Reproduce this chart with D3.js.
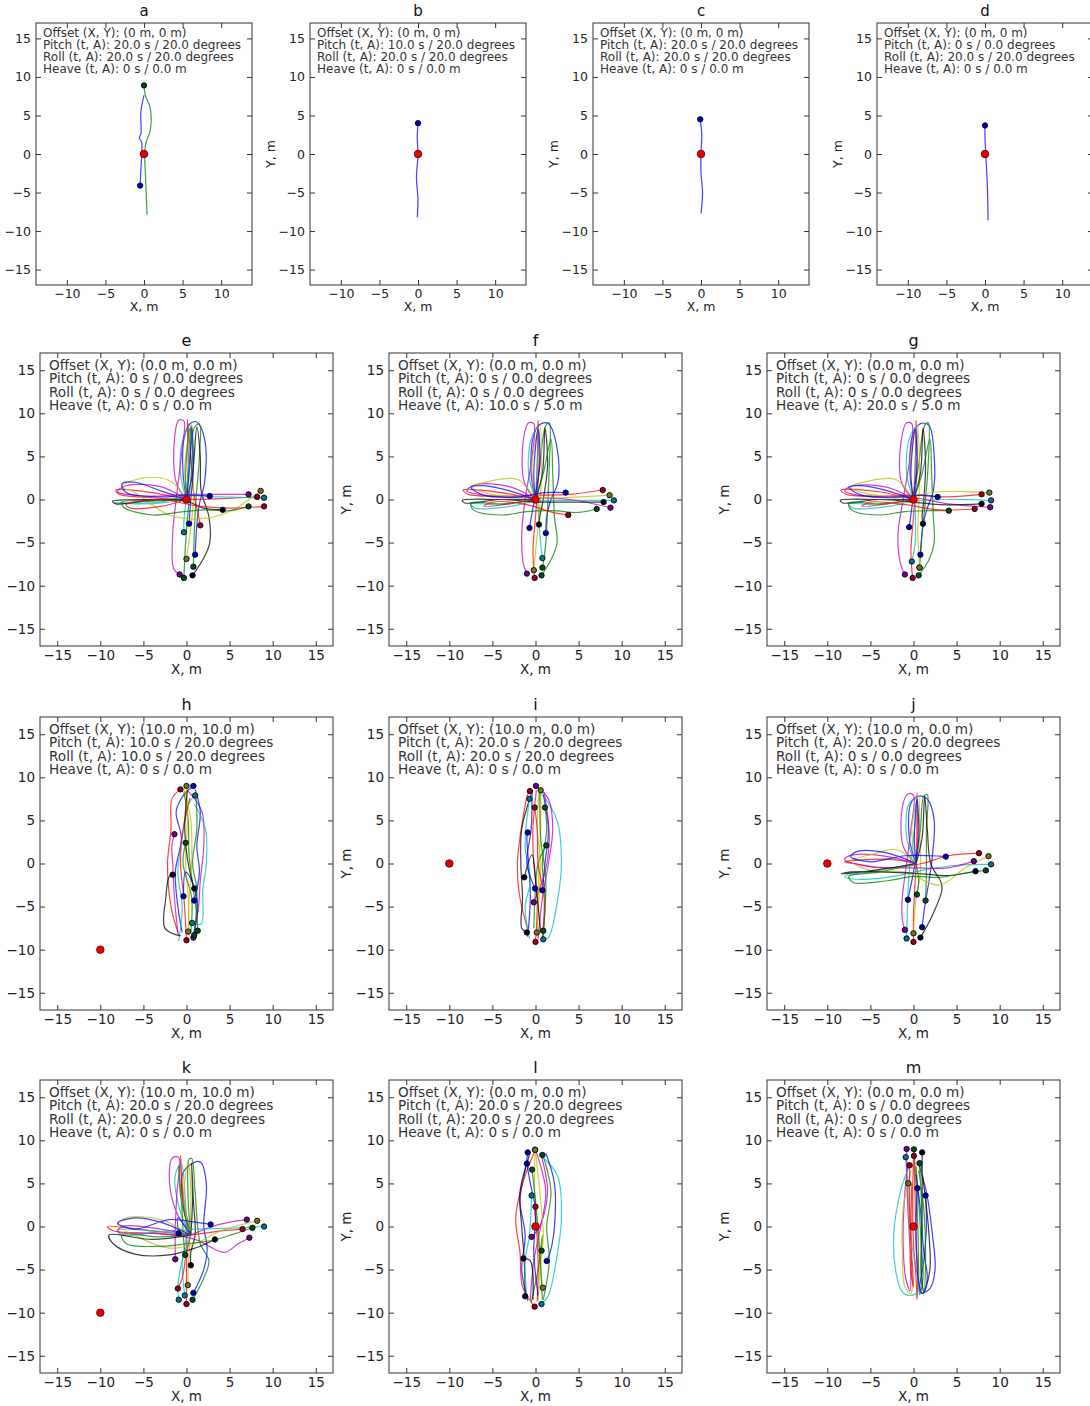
<!DOCTYPE html>
<html>
<head>
<meta charset="utf-8">
<script src="https://cdn.jsdelivr.net/npm/d3@7"></script>
<style>
  body { margin: 0; background: #fff; }
  svg { display: block; }
  text { font-family: "DejaVu Sans", sans-serif; }
</style>
</head>
<body>
<svg></svg>
<script>
let width = 1090
let height = 1406

let panelIds = ['a', 'b', 'c', 'd', 'e', 'f', 'g', 'h', 'i', 'j', 'k', 'l', 'm']
let offsetText = ['(0 m, 0 m)', '(0 m, 0 m)', '(0 m, 0 m)', '(0 m, 0 m)',
  '(0.0 m, 0.0 m)', '(0.0 m, 0.0 m)', '(0.0 m, 0.0 m)',
  '(10.0 m, 10.0 m)', '(10.0 m, 0.0 m)', '(10.0 m, 0.0 m)',
  '(10.0 m, 10.0 m)', '(0.0 m, 0.0 m)', '(0.0 m, 0.0 m)']
let pitchText = ['20.0 s / 20.0 degrees', '10.0 s / 20.0 degrees', '20.0 s / 20.0 degrees', '0 s / 0.0 degrees',
  '0 s / 0.0 degrees', '0 s / 0.0 degrees', '0 s / 0.0 degrees',
  '10.0 s / 20.0 degrees', '20.0 s / 20.0 degrees', '20.0 s / 20.0 degrees',
  '20.0 s / 20.0 degrees', '20.0 s / 20.0 degrees', '0 s / 0.0 degrees']
let rollText = ['20.0 s / 20.0 degrees', '20.0 s / 20.0 degrees', '20.0 s / 20.0 degrees', '20.0 s / 20.0 degrees',
  '0 s / 0.0 degrees', '0 s / 0.0 degrees', '0 s / 0.0 degrees',
  '10.0 s / 20.0 degrees', '20.0 s / 20.0 degrees', '0 s / 0.0 degrees',
  '20.0 s / 20.0 degrees', '20.0 s / 20.0 degrees', '0 s / 0.0 degrees']
let heaveText = ['0 s / 0.0 m', '0 s / 0.0 m', '0 s / 0.0 m', '0 s / 0.0 m',
  '0 s / 0.0 m', '10.0 s / 5.0 m', '20.0 s / 5.0 m',
  '0 s / 0.0 m', '0 s / 0.0 m', '0 s / 0.0 m',
  '0 s / 0.0 m', '0 s / 0.0 m', '0 s / 0.0 m']
// red marker: where the walk was meant to start
let startPoints = [[0, 0], [0, 0], [0, 0], [0, 0], [0, 0], [0, 0], [0, 0],
  [-10, -10], [-10, 0], [-10, 0], [-10, -10], [0, 0], [0, 0]]

let smallTicks = [-10, -5, 0, 5, 10]
let bigTicks = [-15, -10, -5, 0, 5, 10, 15]
let yTicks = [-15, -10, -5, 0, 5, 10, 15]

// matplotlib classic colour cycle: b g r c m y k
let lineColors = ['#0000ff', '#008000', '#ff0000', '#00bfbf', '#bf00bf', '#bfbf00', '#000000']

let tracksA = [
  [[0, 7.6], [-0.4, 5.5], [-0.4, 2.6], [-0.6, 2.1], [-0.3, 1.5], [-0.3, 0], [-0.4, -2], [-0.5, -4.1]],
  [[0.4, -7.9], [0.2, -3], [0.1, 0.4], [0.3, 1.6], [0.8, 3], [0.8, 6], [0.2, 7.5], [0, 8.9]]
]
let tracksB = [
  [[-0.1, -8.2], [0, -6], [-0.2, -3], [0, 0], [-0.1, 2], [0, 4]]
]
let tracksC = [
  [[0, -7.7], [0.2, -5], [0, -2.5], [0, 0], [0.1, 2.5], [-0.1, 4.5]]
]
let tracksD = [
  [[0.4, -8.6], [0.3, -4], [0.1, 0], [0, 2], [0, 3.7]]
]
let tracksE = [
  [[0, 0], [-0.4, 3], [-0.3, 7], [0.3, 8.7], [1.2, 9], [2.1, 7], [2.1, 2], [1.5, -0.5], [1.2, -3], [1, -6.4]],
  [[0, 0], [0.3, 4], [1, 8.5], [1.5, 8.7], [1.5, 5], [1.1, 0], [0.9, -4], [0.8, -7.8]],
  [[0, 0], [0.2, 4], [0.1, 9.3], [0.5, 5], [0.8, 1], [1.3, -1.5], [1.6, -3]],
  [[0, 0], [-0.7, 3], [-0.4, 7], [0.4, 8.6], [0.3, 5], [0, 0.5], [-0.3, -2.5], [-0.3, -3.8]],
  [[0, 0], [-1.2, 2], [-1.4, 7], [-0.9, 9.2], [-0.3, 9.1], [-0.5, 6], [-1.2, 0], [-1.6, -4], [-1.5, -8], [-0.8, -8.7]],
  [[0, 0], [-0.2, 4], [0.6, 8.7], [0.7, 5], [0.8, 0], [0.4, -4], [0, -6.9]],
  [[0, 0], [0.7, 3], [1.2, 8.4], [1.6, 5], [1.7, 1], [2.6, -2], [2.7, -5], [2, -6.8], [0.7, -8.8]],
  [[0, 0], [0.4, 4], [0.6, 8.5], [0.8, 4], [0.5, 0], [0.3, -2.8]],
  [[0, 0], [-0.1, 3], [0.4, 8.3], [0.7, 6], [0.3, 0], [-0.1, -5], [-0.3, -9.1]],
  [[0, 0], [-4, 0.8], [-8.2, 1.1], [-7.8, 0.6], [-4, 0.2], [0, 0], [4, 0.1], [8.2, 0.3]],
  [[0, 0], [-4, -0.5], [-8.4, -0.4], [-7.5, -0.4], [-3, -0.3], [0, 0.4], [4, 0.3], [9, 0.2]],
  [[0, 0], [-3, 1.5], [-7, 1.6], [-8, 0.9], [-5, 0.4], [0, 0.6], [4, 0.6], [7.2, 0.6]],
  [[0, 0], [-2, 2.2], [-5, 2.5], [-7.5, 1.5], [-6, 0.8], [-2, -1.8], [2, -2.2], [5, -1.4], [8.6, 1]],
  [[0, 0], [-4, 0], [-8.6, -0.2], [-8.2, -0.5], [-4, -0.1], [0, -0.2], [2, -1], [4.2, -1.2]],
  [[0, 0], [-3, 1], [-6, 2], [-7.5, 1.8], [-7, 0.8], [-3, 0.3], [0, 0.5], [2.7, 0.4]],
  [[0, 0], [-4, -0.2], [-7.5, -0.3], [-7.3, -0.9], [-4, -1.8], [-1, -1.5], [2, -1.2], [5, -1.3], [7.2, -0.8]],
  [[0, 0], [-3, -0.8], [-6.5, -1], [-7, -0.6], [-3, 0], [1, -0.7], [5, -1], [9, -0.8]]
]
let tracksF = [
  [[0, 0], [-0.5, 3], [-0.2, 7.5], [0.5, 8.7], [1.5, 8.8], [2.5, 6], [2.6, 2], [1.8, 0], [1.3, -2], [1.2, -3.9]],
  [[0, 0], [0.5, 4], [1.2, 8.6], [1.6, 8.9], [1.6, 4], [1.4, -1], [1.2, -5], [0.8, -7.9]],
  [[0, 0], [0.2, 4], [0.3, 9.2], [0.4, 4], [0, -2], [-0.3, -6], [-0.1, -9.1]],
  [[0, 0], [-0.8, 3], [-0.5, 7], [0.3, 8.4], [0.2, 4], [0.3, -1], [0.6, -5], [0.8, -6.8]],
  [[0, 0], [-1.3, 2], [-1.4, 7], [-0.8, 8.9], [-0.2, 8.8], [-0.4, 5], [-1.2, 0], [-1.6, -4], [-1.4, -7.5], [-1, -8.6]],
  [[0, 0], [-0.4, 4], [0.5, 8.6], [0.7, 4], [0.5, -1], [0.2, -4], [-0.2, -8.2]],
  [[0, 0], [0.8, 3], [1.1, 8.3], [1.4, 4], [0.9, 0], [0.5, -2], [0.4, -2.9]],
  [[0, 0], [-0.2, 3], [0.3, 8.2], [0.5, 4], [-0.3, -1], [-0.7, -3.3]],
  [[0, 0], [0.9, 3], [1.8, 7], [2, 3], [2.2, -2], [2.5, -5], [1.8, -7], [0.7, -8.8]],
  [[0, 0], [-4, 0.8], [-8.4, 1.1], [-7.8, 0.6], [-4, 0.4], [0, 0.5], [4, 0.6], [7.8, 1.1]],
  [[0, 0], [-4, -0.6], [-7.5, -0.5], [-7, -1], [-3, -0.8], [0, -0.2], [4, -0.1], [9.1, -0.1]],
  [[0, 0], [-3, 1.5], [-7, 1.7], [-8, 1], [-5, 0.4], [0, 0.2], [4, 0], [8.7, -0.95]],
  [[0, 0], [-2, 2.3], [-5, 2.2], [-7.3, 1.4], [-5, 0.6], [-1, 0.3], [3, 0.2], [8.6, 0.5]],
  [[0, 0], [-4, 0], [-8.5, -0.1], [-8.2, -0.4], [-4, 0], [0, -0.3], [3, -0.3], [7.9, -0.3]],
  [[0, 0], [-3, 1], [-6, 1.6], [-7.5, 1.4], [-6, 0.5], [-2, 0.3], [1, 0.8], [3.5, 0.8]],
  [[0, 0], [-4, -0.5], [-7.5, -0.4], [-7.2, -1.2], [-4, -1.8], [-1, -1.4], [2, -1.3], [5, -1.5], [7.1, -1.1]],
  [[0, 0], [-3, -0.5], [-6, -0.8], [-5, -0.3], [-1, -0.6], [2, -1.5], [3.8, -1.8]]
]
let tracksG = [
  [[0, 0], [-0.4, 3], [-0.1, 7.5], [0.8, 8.8], [1.8, 8.6], [2.4, 5], [2.3, 1], [1.6, -1], [1.1, -3], [0.8, -6.4]],
  [[0, 0], [0.6, 4], [1.3, 8.6], [1.7, 8.9], [1.7, 4], [1.3, -1], [1, -4], [0.7, -7.9]],
  [[0, 0], [0.2, 4], [0.3, 9.2], [0.4, 4], [0, -2], [-0.3, -6], [-0.1, -9.1]],
  [[0, 0], [-0.8, 3], [-0.5, 7], [0.3, 8.4], [0.2, 4], [0.2, -1], [0.2, -5], [-0.2, -7.2]],
  [[0, 0], [-1.4, 2], [-1.4, 7], [-0.8, 8.9], [-0.2, 8.8], [-0.4, 5], [-1.2, 0], [-1.8, -4], [-1.5, -7.5], [-1, -8.7]],
  [[0, 0], [-0.4, 4], [0.4, 8.6], [0.7, 4], [0.6, -1], [0.5, -4], [0.7, -7.9]],
  [[0, 0], [0.8, 3], [1.1, 8.3], [1.4, 4], [1.2, 0], [1, -2], [1.1, -2.8]],
  [[0, 0], [-0.3, 3], [0.2, 8.2], [0.4, 4], [-0.2, -1], [-0.5, -3.2]],
  [[0, 0], [1, 3], [1.9, 7], [2.1, 3], [2.3, -2], [2.4, -5], [1.8, -7], [0.6, -8.8]],
  [[0, 0], [-4, 0.9], [-8.4, 1.1], [-7.8, 0.6], [-4, 0.4], [0, 0.5], [4, 0.3], [7.9, 0.6]],
  [[0, 0], [-4, -0.6], [-7.5, -0.5], [-7, -1], [-3, -0.8], [0, -0.2], [4, 0], [9, -0.1]],
  [[0, 0], [-3, 1.4], [-7, 1.6], [-8, 1], [-5, 0.3], [0, 0.2], [4, -0.5], [8.9, -0.9]],
  [[0, 0], [-2, 2.3], [-5, 2.2], [-7.3, 1.4], [-5, 0.6], [-1, 0.3], [3, 0.9], [8.8, 0.8]],
  [[0, 0], [-4, 0], [-8.5, -0.1], [-8.2, -0.4], [-4, 0], [0, -0.3], [3, -0.6], [7.9, -0.5]],
  [[0, 0], [-3, 1], [-6, 1.6], [-7.5, 1.4], [-6, 0.5], [-2, 0.3], [1, 0.5], [2.8, 0.3]],
  [[0, 0], [-4, -0.5], [-7.5, -0.4], [-7.2, -1.2], [-4, -1.8], [-1, -1.4], [2, -1.3], [4.1, -1.3]],
  [[0, 0], [-3, -0.5], [-6, -0.8], [-5, -0.3], [-1, -0.6], [3, -1.2], [7.1, -1.1]]
]
let tracksH = [
  [[-0.5, -8], [-1, -5], [-1.3, -1], [-0.6, 3], [-1.2, 6], [-0.3, 8], [0.8, 9]],
  [[-0.3, 8.3], [0.2, 5], [0.3, 1], [0.8, -3], [1.2, -6], [1.3, -7.8]],
  [[-0.9, -8.3], [-1.8, -5], [-2.2, 0], [-1.8, 4], [-1.7, 7.5], [-0.7, 8.6]],
  [[-0.9, -9], [-0.5, -5], [-1, -1], [-0.5, 3], [0.3, 7], [1, 7.9]],
  [[0.2, 8.4], [1.8, 6], [2, 2], [1.6, -2], [1.4, -5], [0.8, -8.6]],
  [[0.3, -8.5], [0.2, -4], [-0.1, 0], [0.1, 5], [0, 9]],
  [[-0.7, -8.4], [-2.5, -7.5], [-2.4, -4], [-2, -1.5], [-1.6, -1.3]],
  [[1, 8.6], [1.6, 6], [1.2, 2], [1.5, -1], [0.9, -4.3]],
  [[0.5, -8], [0.6, -4], [-0.4, 0], [-0.1, 2.4]],
  [[0.4, 7.6], [-0.4, 4], [-0.7, 0], [-0.3, -4], [0, -8.9]],
  [[0.9, 6.9], [2.2, 4], [2.3, 0], [1.9, -3], [1.7, -7], [0.65, -6.9]],
  [[-1, -8], [-1.4, -4], [-1.6, 0], [-1.7, 2], [-1.4, 3.4]],
  [[-0.3, 8.7], [0.5, 5], [0.6, 0], [0.3, -4], [0.2, -7.9]],
  [[0.1, 8.5], [-0.2, 4], [0.2, 0], [0.9, -2.9]],
  [[0.8, -8.2], [1.3, -5], [0.6, -2], [-0.1, -1], [-0.35, -3.8]],
  [[1.1, 8], [1.2, 4], [0.7, 0], [1.2, -3], [0.9, -8.3]]
]
let tracksI = [
  [[-0.9, -8.5], [-0.6, -4], [-0.8, 0], [-1, 3], [-0.9, 3.6]],
  [[0.9, -8.8], [1.1, -4], [0.8, 0], [1.3, 4], [1.1, 6.5]],
  [[-0.8, -8], [-1.8, -4], [-2.1, 0], [-1.5, 5], [-0.9, 8], [-0.65, 8.4]],
  [[0.4, 8.6], [2.5, 5], [3, 0], [2.6, -4], [1.5, -8.6], [0.9, -8.8]],
  [[0.3, -8.8], [0.8, -4], [1.5, 0], [2, 4], [1.5, 7.5], [0.05, 9]],
  [[0.4, 8.2], [0.2, 4], [0.6, 0], [0.4, -4], [0.15, -8]],
  [[-0.5, 8], [-1.6, 4], [-1.7, 0], [-1.5, -4], [-1.6, -7.5], [-1, -8]],
  [[0.9, 8], [1.5, 4], [1.1, 0], [0.8, -3.1]],
  [[-0.2, -7.5], [0, -3], [0.3, 0], [1.25, 2.1]],
  [[0.1, 8.5], [-0.3, 4], [-0.2, 0], [0.2, -4], [0, -9.1]],
  [[-0.7, -8.7], [-1.2, -5], [-0.6, -2], [-1.2, 2], [-0.7, 7.5]],
  [[1, 8.3], [1.6, 3], [1.1, -1], [-0.2, -4.5]],
  [[0.2, -8.5], [0.3, -4], [0.4, 0], [0.6, 4], [0.6, 8.5]],
  [[0.6, -8], [0.1, -3], [-0.4, 1], [-1.3, -1.6]],
  [[-0.4, 8.5], [-0.5, 4], [-1, 0], [-0.05, -2.9]],
  [[0.5, 8.3], [0.6, 3], [1.2, -2], [0.9, -7.8]],
  [[0.8, -8.6], [1, -4], [0.3, 0], [0.2, 4], [-0.1, 6.5]]
]
let tracksJ = [
  [[0.3, 0], [-0.5, 3], [-0.3, 7], [0.5, 7.8], [1.6, 7.5], [2.4, 5], [2.2, 1], [1.8, -2], [1.3, -5], [1, -7.4]],
  [[0.3, 0], [0.8, 4], [1.2, 7.8], [1.6, 8], [1.5, 4], [1.5, -1], [1.4, -4.3]],
  [[0.3, 0], [0.4, 4], [0.4, 8.2], [0.5, 4], [0.2, -2], [0, -6], [0, -9.1]],
  [[0.3, 0], [-0.8, 3], [-0.5, 7], [0.3, 7.5], [0, 3], [-0.5, -1], [-0.7, -5], [-0.8, -8.7]],
  [[0.3, 0], [-1.2, 2], [-1.2, 7], [-0.6, 8.1], [0, 7.9], [-0.3, 4], [-0.8, 0], [-1.3, -4], [-1.3, -6.5], [-1, -7.7]],
  [[0.3, 0], [-0.2, 4], [0.6, 7.8], [0.7, 4], [0.8, -1], [0.3, -4], [0, -8.1]],
  [[0.3, 0], [1, 3], [1.3, 7.8], [1.6, 4], [2, 0], [3.2, -2.2], [3.3, -3.05], [2.2, -6], [0.8, -8.6]],
  [[0.3, 0], [0.1, 3], [0.4, 7.5], [0.6, 3], [0, -1], [-0.65, -4.2]],
  [[0.3, 0], [0.6, -2], [0.4, -3.6]],
  [[0.3, 0], [-3, 0.5], [-8, 0.2], [-7, 0], [-3, -0.5], [1, 0], [4, 0.9], [7.6, 1.2]],
  [[0.3, 0], [-4, -0.8], [-8, -1.5], [-7, -1.8], [-3, -1.6], [1, -0.8], [5, -0.2], [9, -0.1]],
  [[0.3, 0], [-3, 0.8], [-7, 1], [-8, 0.5], [-5, -0.4], [0, -0.5], [4, -0.5], [7, 0.27]],
  [[0.3, 0], [-2, 1.6], [-5, 1], [-7.3, 0.3], [-5, -0.8], [-1, -1], [3, -2.5], [6, -0.5], [8.7, 0.85]],
  [[0.3, 0], [-4, -0.7], [-8.4, -1.2], [-7.5, -1], [-3, -1], [1, -1.2], [4, -1.4], [7.2, -0.9]],
  [[0.3, 0], [-3, 1.2], [-6.5, 1.4], [-7.3, 0.8], [-5, 0.2], [-1, 0.9], [2, 0.9], [3.75, 0.8]],
  [[0.3, 0], [-4, -1], [-7.5, -1.5], [-7, -2.2], [-3, -2], [0, -1.5], [3, -1.6], [6, -1.1], [8.4, -0.8]]
]
let tracksK = [
  [[0.5, -1], [-0.3, 2], [-0.5, 6], [0.2, 7], [1.6, 7.5], [2.3, 5], [2, 0], [2.4, -2.5], [2, -5], [0.8, -7.7]],
  [[0.5, -1], [0.2, 3], [0.3, 7.8], [0.6, 7.9], [1, 4], [1.6, -2], [2.6, -4], [2, -6], [0.7, -8.5]],
  [[0.5, -1], [-0.3, 3], [-0.7, 8.2], [-0.5, 4], [0, 0], [0, -5], [0, -9]],
  [[0.5, -1], [-0.8, 2], [-1.3, 6], [-0.6, 7.3], [-0.2, 4], [0, -1], [-0.5, -4], [-0.2, -8]],
  [[0.5, -1], [-1.3, 2], [-2, 6], [-1.6, 8], [-0.9, 8], [-1.1, 4], [-1.3, 0], [-1.3, -3.8]],
  [[0.5, -1], [-0.3, 3], [0.2, 7.6], [0.5, 4], [0.4, -1], [0.2, -5], [0.15, -6.8]],
  [[0.5, -1], [0.7, 3], [0.6, 7.3], [0.8, 3], [1, -1], [0.5, -3], [0.5, -4.5]],
  [[0.5, -1], [-1, 1], [-0.9, -0.8]],
  [[0.5, -1], [-0.6, 3], [-0.9, 7], [-0.6, 3], [-0.3, -2], [-0.15, -3.3]],
  [[0.5, -1], [-4, -0.5], [-9.2, 0], [-8.5, -0.5], [-4, -0.8], [0, -1], [4, -0.5], [6.5, -0.3]],
  [[0.5, -1], [-4, -0.5], [-8, -0.4], [-7.5, -1], [-3, -0.6], [1, -0.3], [5, -0.2], [9, 0]],
  [[0.5, -1], [-3, -0.3], [-7.5, 0], [-8, -0.6], [-3, -0.8], [1, -1.5], [4.4, -3], [6, -2], [7.3, -1.3]],
  [[0.5, -1], [-3, 0.8], [-7, 1], [-8, 0.2], [-5, -1.5], [-2, -2.5], [1, -2], [4, -0.5], [8.2, 0.66]],
  [[0.5, -1], [-4, -1.5], [-9, -1], [-8.5, -2], [-6, -3.2], [-2, -3.3], [1, -2.5], [3.3, -1.5]],
  [[0.5, -1], [-3, 0.5], [-6, 1], [-8, 0.4], [-6, -0.3], [-2, 0.8], [1, 0.5], [2.8, 0.23]],
  [[0.5, -1], [-3, -1.2], [-7.5, -1], [-7, -2], [-3, -2.3], [0, -2], [3, -1.6], [7.65, -0.15]],
  [[0.5, -1], [0, -3], [-0.5, -6], [-1, -7.2]],
  [[0.5, -1], [-0.5, -4], [-1, -7], [-0.9, -8.5]],
  [[0.5, -1], [3, 0], [5, 0.5], [7, 0.8]]
]
let tracksL = [
  [[-0.9, -8.6], [-1.6, -5], [-1.2, -1], [-1.8, 3], [-1.2, 6.5], [-0.9, 8.6]],
  [[0.9, -8.5], [1.6, -4], [1.3, 0], [1.8, 4], [1.1, 7.5], [0.8, 8.3]],
  [[-0.2, 8.5], [-1.5, 5], [-2.3, 1], [-1.8, -3], [-1.5, -7], [-0.1, -9.3]],
  [[0.5, 8.3], [2.5, 6], [3, 1], [2.4, -4], [1.5, -8], [0.7, -9]],
  [[-0.6, -8.5], [-0.2, -4], [0.6, 0], [1.2, 4], [0.3, 8], [-0.05, 8.9]],
  [[0.3, -8.6], [0.5, -4], [0.2, 0], [-0.1, 4], [-0.05, 8.9]],
  [[-0.7, 8.3], [-1.8, 4], [-1.6, 0], [-1.3, -4], [-1.2, -8.1]],
  [[1.2, 8.5], [2.2, 5], [2.2, 0], [1.7, -3], [1.3, -4]],
  [[-0.5, -8.8], [0.3, -5], [0.8, -1], [0.7, -2.8]],
  [[0.2, -8.7], [0.3, -4], [0.1, 0], [-0.1, 2], [0, 2.3]],
  [[-1, -8.2], [-1.2, -4], [-0.7, -1], [-0.45, 3.6]],
  [[0.6, 8.5], [1.4, 4], [0.5, 0], [-0.45, -1.2]],
  [[0, 8.8], [0.5, 4], [0.9, -1], [0.6, -5], [0.85, -7.1]],
  [[-0.3, -8.5], [-0.6, -4], [-1.4, -3.7]],
  [[0.3, -8], [-0.2, -3], [0, 2], [-0.6, 5], [-1, 7.3]],
  [[0.8, -8.5], [0.5, -3], [0, 3], [-0.4, 6.6]]
]
let tracksM = [
  [[0.5, 7.5], [1.5, 4], [2.2, -1], [2.5, -5], [1.9, -7.2], [0.8, -7.7], [1.2, -4], [1.5, 0], [1.4, 3.6]],
  [[0.3, 7], [0.6, 3], [0.9, -2], [1.1, -6], [0.7, -7.9], [0.6, -5], [0.5, 0], [0.3, 5], [0.05, 8.95]],
  [[0, 8], [-0.1, 3], [0, -2], [0.3, -6], [0.4, -8.5], [0.5, -5], [0.3, -2], [0.2, 3], [0.05, 8.2]],
  [[-0.5, 7], [-1.4, 4.5], [-2.3, -1], [-2, -5.5], [-1.3, -7.6], [-0.3, -8], [0.5, -7.5], [-0.2, -2], [-0.6, 3], [-0.9, 8.05]],
  [[-0.6, 7.5], [-1, 4], [-1.2, -2], [-0.9, -6], [-0.4, -7.5], [-0.4, -3], [-0.7, 3], [-0.8, 9]],
  [[-0.3, 6.5], [-1.2, 2], [-1.3, -3], [-1, -7], [-0.3, -7.8], [-0.3, -2], [-0.6, 5]],
  [[0.8, 7.5], [1.3, 4], [1.8, -1], [1.9, -5], [1.2, -7.6], [0.9, -5], [1, 2], [1, 8.6]],
  [[0.3, 6], [0.8, 2], [1.2, -3], [1.6, -6], [1.1, -7.8], [0.6, -6.5], [0.3, -1], [0.45, 4.45]],
  [[0.6, 6.5], [1.2, 2], [1.4, -4], [1.2, -7.5], [0.9, -6], [1, 0], [0.7, 7.35]],
  [[-0.2, 5], [-0.3, -1], [-0.2, -6], [0, -7], [-0.4, 0], [-0.45, 7.1]]
]

let allTracks = [tracksA, tracksB, tracksC, tracksD, tracksE, tracksF, tracksG,
  tracksH, tracksI, tracksJ, tracksK, tracksL, tracksM]

function frameFor(i) {
  if (i < 4) {
    return { left: [36, 310, 593, 877][i], top: 23, w: 216, h: 262, xr: 14, yr: 17, big: false }
  }
  let k = i - 4
  return { left: [40, 389, 767][k % 3], top: [353, 717, 1080][Math.floor(k / 3)], w: 293, h: 293, xr: 17, yr: 17, big: true }
}

let svg = d3.select('svg')
    .attr('width', width)
    .attr('height', height)

svg.append('rect')
    .attr('width', width)
    .attr('height', height)
    .attr('fill', '#fff')

let line = d3.line().curve(d3.curveCatmullRom.alpha(0.5))

panelIds.forEach((id, i) => {
  let f = frameFor(i)
  let fs = f.big ? 13.5 : 12.5
  let x = d3.scaleLinear().domain([-f.xr, f.xr]).range([0, f.w])
  let y = d3.scaleLinear().domain([-f.yr, f.yr]).range([f.h, 0])
  line.x(d => x(d[0])).y(d => y(d[1]))

  let g = svg.append('g')
      .attr('transform', `translate(${f.left}, ${f.top})`)

  let clipId = 'clip-' + id
  g.append('clipPath')
      .attr('id', clipId)
    .append('rect')
      .attr('width', f.w)
      .attr('height', f.h)

  let plot = g.append('g').attr('clip-path', `url(#${clipId})`)

  let tracks = allTracks[i]
  plot.selectAll('.track')
    .data(tracks)
    .enter()
    .append('path')
      .classed('track', true)
      .attr('d', line)
      .attr('fill', 'none')
      .attr('stroke', (d, j) => lineColors[j % 7])
      .attr('stroke-opacity', 0.75)
      .attr('stroke-width', 1.2)
      .attr('stroke-linejoin', 'round')

  // end markers look almost navy in the figure: colour fill, heavy black edge
  plot.selectAll('.end')
    .data(tracks)
    .enter()
    .append('circle')
      .classed('end', true)
      .attr('cx', d => x(d[d.length - 1][0]))
      .attr('cy', d => y(d[d.length - 1][1]))
      .attr('r', 2.7)
      .attr('fill', (d, j) => d3.color(lineColors[j % 7]).darker(1.3))
      .attr('stroke', '#000033')
      .attr('stroke-width', 0.9)

  plot.append('circle')
      .attr('cx', x(startPoints[i][0]))
      .attr('cy', y(startPoints[i][1]))
      .attr('r', 3.8)
      .attr('fill', '#e80000')
      .attr('stroke', '#550000')
      .attr('stroke-width', 0.8)

  // axes: ticks point inwards on all four sides, like matplotlib classic
  let xt = f.big ? bigTicks : smallTicks
  let fmt = d3.format('d')
  let axes = [
    d3.axisBottom(x).tickValues(xt).tickFormat(fmt).tickSizeInner(-5).tickSizeOuter(0).tickPadding(4),
    d3.axisLeft(y).tickValues(yTicks).tickFormat(fmt).tickSizeInner(-5).tickSizeOuter(0).tickPadding(5),
    d3.axisTop(x).tickValues(xt).tickFormat('').tickSizeInner(-5).tickSizeOuter(0),
    d3.axisRight(y).tickValues(yTicks).tickFormat('').tickSizeInner(-5).tickSizeOuter(0)
  ]
  let shifts = [`translate(0, ${f.h})`, 'translate(0, 0)', 'translate(0, 0)', `translate(${f.w}, 0)`]
  axes.forEach((ax, n) => {
    let a = g.append('g')
        .attr('transform', shifts[n])
        .call(ax)
    a.select('.domain').remove()
    a.selectAll('line').attr('stroke', '#333')
    a.selectAll('text')
        .attr('fill', '#222')
        .style('font-size', fs + 'px')
        .style('font-family', '"DejaVu Sans", sans-serif')
  })

  g.append('rect')
      .attr('width', f.w)
      .attr('height', f.h)
      .attr('fill', 'none')
      .attr('stroke', '#333')
      .attr('stroke-width', 1)

  // parameter block in the top-left corner
  let lines = [
    'Offset (X, Y): ' + offsetText[i],
    'Pitch (t, A): ' + pitchText[i],
    'Roll (t, A): ' + rollText[i],
    'Heave (t, A): ' + heaveText[i]
  ]
  g.append('text')
      .attr('x', f.big ? 9 : 7)
      .attr('y', f.big ? 17 : 14)
      .attr('fill', '#333')
      .style('font-size', (f.big ? 13.6 : 12) + 'px')
    .selectAll('tspan')
    .data(lines)
    .enter()
    .append('tspan')
      .attr('x', f.big ? 9 : 7)
      .attr('dy', (d, n) => n === 0 ? 0 : (f.big ? 13.3 : 12))
      .text(d => d)

  g.append('text')
      .attr('x', f.w / 2)
      .attr('y', -7)
      .attr('text-anchor', 'middle')
      .attr('fill', '#111')
      .style('font-size', (f.big ? 16 : 15) + 'px')
      .text(id)

  g.append('text')
      .attr('x', f.w / 2)
      .attr('y', f.h + (f.big ? 28 : 26))
      .attr('text-anchor', 'middle')
      .attr('fill', '#222')
      .style('font-size', fs + 'px')
      .text('X, m')

  // the left-most column has its Y label cut off in the figure
  if (f.left > 100) {
    g.append('text')
        .attr('transform', `translate(${f.big ? -38 : -35}, ${f.h / 2}) rotate(-90)`)
        .attr('text-anchor', 'middle')
        .attr('fill', '#222')
        .style('font-size', fs + 'px')
        .text('Y, m')
  }
})
</script>
</body>
</html>
